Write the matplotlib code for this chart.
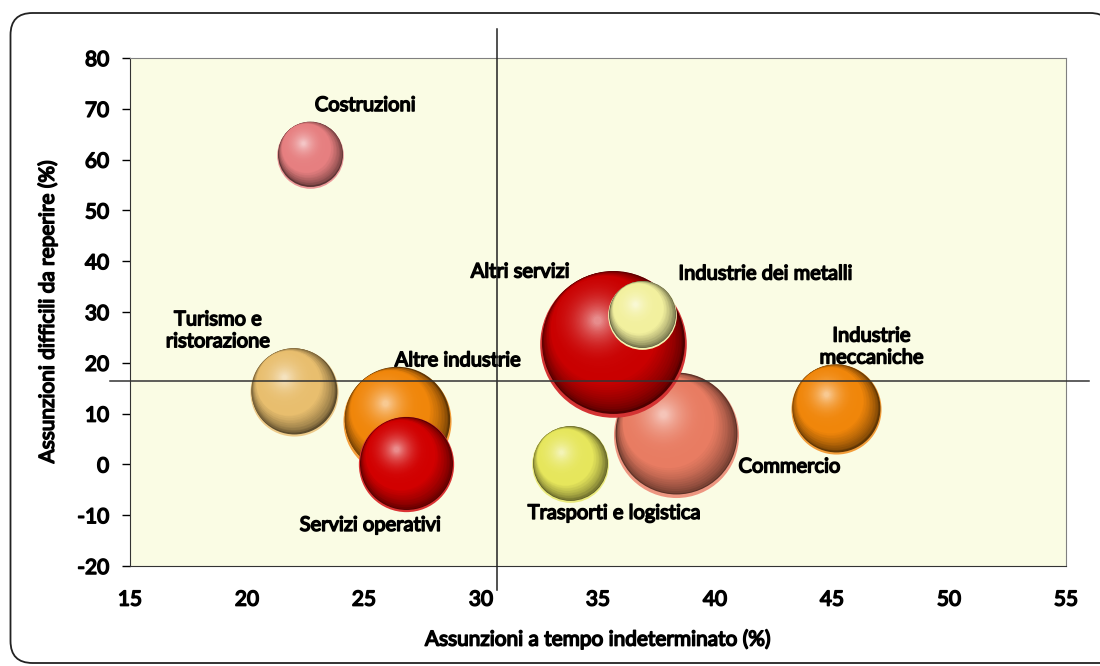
import matplotlib
matplotlib.use('Agg')
import matplotlib.pyplot as plt
import matplotlib.colors as mcolors
import matplotlib.patheffects as pe
from matplotlib.patches import PathPatch
from matplotlib.path import Path
from matplotlib.transforms import ScaledTranslation
import numpy as np

# data
sectors = ['Costruzioni', 'Turismo e\nristorazione', 'Altre industrie', 'Servizi operativi',
           'Trasporti e logistica', 'Commercio', 'Industrie\nmeccaniche', 'Altri servizi',
           'Industrie dei metalli']
tempo_indet = [22.7, 22.0, 26.4, 26.8, 33.8, 38.35, 45.15, 35.65, 36.9]   # x (%)
difficili = [61.0, 14.3, 8.6, 0.0, 0.0, 5.8, 10.9, 23.7, 29.4]           # y (%)
assunzioni = [11.1, 19.4, 29.2, 22.7, 14.7, 39.1, 20.3, 53.7, 11.8]      # bubble size
media_x = 30.67
media_y = 16.4

colori = ['#E67F80', '#E8BE6E', '#F0860A', '#D10000', '#E6E65C',
          '#E87C62', '#F0860A', '#C90000', '#F2F09E']
# label offsets in pixels from the bubble centre
offsets = [(55, 49), (-76, 61), (61, 60), (-36, -61), (44, -49),
           (113, -32), (36, 62), (-93, 72), (123, 41)]

plt.rcParams['font.family'] = ['Lato', 'DejaVu Sans']
plt.rcParams['axes.unicode_minus'] = False
# the installed Lato has no bold face, so thicken the glyphs with a stroke
bold = [pe.withStroke(linewidth=1.1, foreground='black')]

fig = plt.figure(figsize=(11, 6.66), dpi=100)
ax = fig.add_axes([0.11818, 0.15015, 0.85091, 0.76276])
ax.set_facecolor('#FAFCE4')

# rounded frame around the whole chart (right side runs off the picture)
L, B, T, R, rr = 0.105, 0.03, 6.53, 11.12, 0.22
verts = [(11.3, B), (L + rr, B), (L, B), (L, B + rr), (L, T - rr), (L, T), (L + rr, T),
         (R - rr, T), (R, T), (R, T - rr)]
codes = [Path.MOVETO, Path.LINETO, Path.CURVE3, Path.CURVE3, Path.LINETO, Path.CURVE3,
         Path.CURVE3, Path.LINETO, Path.CURVE3, Path.CURVE3]
fig.patches.append(PathPatch(Path(verts, codes), transform=fig.dpi_scale_trans,
                             facecolor='none', edgecolor='#222222', linewidth=1.3))


def mix(c1, c2, t):
    a = np.array(mcolors.to_rgb(c1))
    b = np.array(mcolors.to_rgb(c2))
    return tuple(a + (b - a) * t)


def layer(x, y, s, f, ox, oy, c):
    r_pt = np.sqrt(s) / 2
    tr = ax.transData + ScaledTranslation(ox * r_pt / 72, oy * r_pt / 72, fig.dpi_scale_trans)
    ax.scatter([x], [y], s=s * f ** 2, color=c, linewidths=0, transform=tr, zorder=2)


def sphere(x, y, size, col):
    s = size * 207.4
    dark = mix(col, 'black', 0.6)
    light = mix(col, 'white', 0.55)
    rim = mix(col, 'white', 0.2)
    ux, uy = -0.58, 0.81
    layer(x, y, s, 1.0, 0, 0, rim)
    n = 50
    for i in range(n):
        t = i / (n - 1)
        f = 0.975 - 0.92 * t
        d = min(0.9 * (0.975 - f), 0.38)
        if f > 0.73:
            c = mix(dark, col, ((0.975 - f) / 0.245) ** 0.6)
        else:
            c = mix(col, light, ((0.73 - f) / 0.675) ** 2.4)
        layer(x, y, s, f, d * ux, 0.025 + d * uy, c)


for i in range(len(sectors)):
    sphere(tempo_indet[i], difficili[i], assunzioni[i], colori[i])
    ax.annotate(sectors[i], (tempo_indet[i], difficili[i]), xytext=offsets[i],
                textcoords='offset pixels', ha='center', va='center',
                fontsize=14.5, linespacing=1.35, zorder=4, path_effects=bold)

# average lines
ax.plot([media_x, media_x], [-24.7, 85.7], color='#222222', lw=1.1, clip_on=False, zorder=5)
ax.plot([14.15, 56.0], [media_y, media_y], color='#333333', lw=1.1, clip_on=False, zorder=5)

ax.set_xlim(15, 55)
ax.set_ylim(-20, 80)
ax.set_xticks(np.arange(15, 56, 5))
ax.set_yticks(np.arange(-20, 81, 10))
ax.tick_params(axis='x', length=0, pad=17, labelsize=15)
ax.tick_params(axis='y', length=6, width=1, direction='out', pad=9, labelsize=15)
for lab in ax.get_xticklabels() + ax.get_yticklabels():
    lab.set_path_effects(bold)

for side in ['top', 'right']:
    ax.spines[side].set_color('#808080')
for side in ['left', 'bottom']:
    ax.spines[side].set_color('#333333')

ax.set_xlabel('Assunzioni a tempo indeterminato (%)', fontsize=15, labelpad=14, path_effects=bold)
ax.set_ylabel('Assunzioni difficili da reperire (%)', fontsize=15, labelpad=14, path_effects=bold)

fig.savefig('out.png', dpi=100, facecolor='white')
